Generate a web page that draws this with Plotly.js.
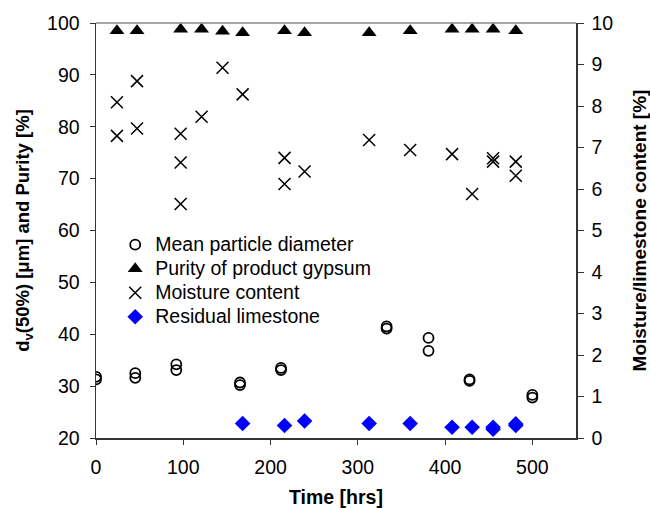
<!DOCTYPE html>
<html>
<head>
<meta charset="utf-8">
<script src="https://cdn.plot.ly/plotly-3.0.1.min.js"></script>
<style>html,body{margin:0;padding:0;background:#fff;}#chart{width:650px;height:508px;}</style>
</head>
<body>
<div id="chart"></div>
<script>
// Mean particle diameter (left axis, µm)
const diamTime = [0, 0, 45, 45, 92, 92, 165, 165, 212, 212, 333, 333, 381, 381, 428, 428, 500, 500];
const diamValue = [31.8, 31.3, 32.5, 31.6, 34.2, 33.1, 30.7, 30.2, 33.5, 33.1, 41.5, 41.1, 39.3, 36.8, 31.3, 31.0, 28.3, 27.8];

// Purity of product gypsum (left axis, %)
const purityTime = [24, 47, 97, 121, 145, 168, 216, 239, 313, 360, 408, 431, 455, 481];
const purityValue = [98.5, 98.5, 98.8, 98.8, 98.4, 98.1, 98.5, 98.1, 98.1, 98.5, 98.8, 98.8, 98.8, 98.5];

// Moisture content (right axis, %)
const moistTime = [24, 24, 47, 47, 97, 97, 97, 121, 145, 168, 216, 216, 239, 313, 360, 408, 431, 455, 455, 481, 481];
const moistValue = [8.09, 7.28, 8.60, 7.46, 7.33, 6.64, 5.64, 7.74, 8.92, 8.28, 6.75, 6.12, 6.42, 7.18, 6.94, 6.84, 5.88, 6.74, 6.66, 6.66, 6.32];

// Residual limestone (right axis, %)
const limeTime = [168, 216, 239, 313, 360, 408, 431, 455, 455, 481, 481];
const limeValue = [0.35, 0.30, 0.41, 0.35, 0.35, 0.26, 0.26, 0.26, 0.21, 0.34, 0.30];

const xTicks = [0, 100, 200, 300, 400, 500];
const leftTicks = [20, 30, 40, 50, 60, 70, 80, 90, 100];
const rightTicks = [0, 1, 2, 3, 4, 5, 6, 7, 8, 9, 10];

const FONT = 'Liberation Sans, Arial, sans-serif';
const LEG = (s) => '<span style="font-size:19.5px">' + s + '</span>';

const traces = [
  {x: diamTime, y: diamValue, name: LEG('Mean particle diameter'), type: 'scatter', mode: 'markers',
   marker: {symbol: 'circle-open', size: 10, color: '#000', line: {width: 1.8, color: '#000'}}},
  {x: purityTime, y: purityValue, name: LEG('Purity of product gypsum'), type: 'scatter', mode: 'markers',
   marker: {symbol: 'triangle-up', size: 13, color: '#000'}},
  {x: moistTime, y: moistValue, name: LEG('Moisture content'), type: 'scatter', mode: 'markers', yaxis: 'y2',
   marker: {symbol: 'x-thin-open', size: 12, color: '#000', line: {width: 1.5, color: '#000'}}},
  {x: limeTime, y: limeValue, name: LEG('Residual limestone'), type: 'scatter', mode: 'markers', yaxis: 'y2',
   marker: {symbol: 'diamond', size: 12, color: '#0000FF'}}
];

const layout = {
  width: 650, height: 508,
  margin: {l: 96, r: 74, t: 23, b: 70},
  paper_bgcolor: '#fff', plot_bgcolor: '#fff',
  font: {family: FONT, size: 19.5, color: '#000'},
  showlegend: true,
  legend: {x: 0.04, y: 0.507, xanchor: 'left', yanchor: 'top', bgcolor: 'rgba(0,0,0,0)',
           font: {family: FONT, size: 16.2, color: '#000'}, itemsizing: 'trace', tracegroupgap: 0},
  xaxis: {range: [0, 550], tickvals: xTicks, ticks: 'outside', ticklen: 5, tickcolor: '#333',
          showline: true, linecolor: '#333', linewidth: 1.5, showgrid: false, zeroline: false,
          tickfont: {family: FONT, size: 19.5}, ticklabelstandoff: 6,
          title: {text: '<b>Time [hrs]</b>', font: {family: FONT, size: 19.5}, standoff: 14}},
  yaxis: {range: [20, 100], tickvals: leftTicks, ticks: 'outside', ticklen: 5, tickcolor: '#333',
          showline: true, linecolor: '#333', linewidth: 1.5, showgrid: false, zeroline: false,
          tickfont: {family: FONT, size: 19.5}, ticklabelstandoff: 6,
          title: {text: '<b>d<sub>v</sub>(50%) [μm] and Purity [%]</b>', font: {family: FONT, size: 18.5}, standoff: 12}},
  yaxis2: {range: [0, 10], tickvals: rightTicks, overlaying: 'y', side: 'right', ticks: 'outside', ticklen: 6, tickcolor: '#333',
           showline: true, linecolor: '#333', linewidth: 1.5, showgrid: false, zeroline: false,
           tickfont: {family: FONT, size: 19.5}, ticklabelstandoff: 4,
           title: {text: '<b>Moisture/limestone content [%]</b>', font: {family: FONT, size: 19}, standoff: 22}},
  yaxis3: {range: [0, 10], tickvals: rightTicks, overlaying: 'y', side: 'right', ticks: 'inside', ticklen: 6, tickcolor: '#333',
           showline: false, showgrid: false, zeroline: false, showticklabels: false},
  shapes: [{type: 'line', xref: 'paper', yref: 'paper', x0: 0, x1: 1, y0: 1, y1: 1,
            line: {color: '#888', width: 1.5}}]
};

Plotly.newPlot('chart', traces, layout, {displayModeBar: false, staticPlot: true});
</script>
</body>
</html>
